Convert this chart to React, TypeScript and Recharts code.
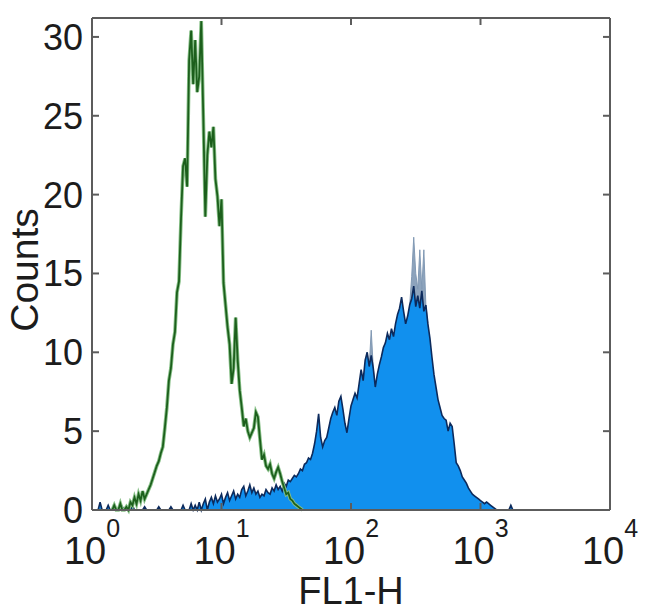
// FL1-H flow cytometry histogram: isotype control (green outline) vs stained sample (blue fill)

import { ComposedChart, Area, Line, XAxis, YAxis } from 'recharts'

// x axis is in channels: 256 channels over 4 log decades (64 per decade)
const X_TICKS = [0, 64, 128, 192, 256]
const X_EXPONENTS = ['0', '1', '2', '3', '4']
const Y_TICKS = [0, 5, 10, 15, 20, 25, 30]

// control histogram, starts at channel 10
const GREEN_START = 10
const greenCounts = [
  0, 0.3, 0, 0, 0.4, 0, 0, 0.2, 0, 0.5, 0.3, 0.8, 0.4,
  1.0, 0.6, 1.2, 0.7, 1.0,
  1.3, 1.6, 2.0, 2.4,
  2.8, 3.1, 3.6, 4.0,
  5.2, 6.5, 8.2,
  9.0, 10.5, 11.3,
  13.8, 14.5, 18.5,
  21.8, 22.3, 20.5,
  28.5, 30.4, 27.0,
  29.8, 26.5, 27.5,
  31.0, 25.0, 18.6,
  22.5, 24.0, 23.0,
  24.3, 21.0, 19.9,
  18.0, 19.7, 14.4,
  13.0, 11.6, 10.5,
  8.0, 9.0, 12.2,
  9.5, 7.6, 6.5,
  5.3, 5.8, 5.0,
  4.6, 4.9, 5.2,
  6.2, 5.9, 4.5,
  3.2, 3.5, 2.8,
  2.6, 2.9, 2.3,
  2.0, 2.4, 2.7,
  2.3, 1.8, 1.4,
  1.0, 1.1, 0.7,
  0.6, 0.4, 0.3,
  0.2, 0.1, 0,
]

// stained sample histogram, starts at channel 2
const BLUE_START = 2
const blueCounts = [
  0, 0, 0.5, 0, 0, 0, 0.3, 0, 0, 0,
  0, 0, 0, 0.2, 0, 0, 0, 0, 0.3, 0,
  0, 0, 0, 0, 0.2, 0, 0, 0, 0, 0,
  0, 0.2, 0, 0, 0, 0, 0, 0.2, 0, 0,
  0, 0, 0, 0.3, 0, 0, 0, 0.4, 0, 0.3,
  0, 0.5, 0, 0.4, 0.7, 0, 0.5, 0.8, 0.4, 0.9,
  0.5, 0.7, 1.0, 0.4, 0.8, 1.1, 0.6, 0.9, 1.2, 0.7,
  1.0, 0.8, 1.3, 1.5, 0.9, 1.2, 1.6, 1.1, 1.4, 1.0,
  1.2, 0.8, 1.0, 0.9, 1.3, 1.1, 1.0, 1.4, 1.2, 1.6,
  1.3, 1.5, 1.2, 1.7, 1.5, 1.9, 1.8, 2.0, 2.2, 2.1,
  2.3, 2.6, 2.5, 2.9, 3.0, 3.3, 3.2, 3.6, 4.2, 5.0,
  6.1, 4.6, 4.0, 4.4, 4.6, 5.2, 5.8, 6.2, 6.5, 6.0,
  6.9, 7.2, 6.4, 5.5, 4.9, 5.8, 6.6, 7.0, 7.4, 7.1,
  8.0, 8.9, 8.2, 9.5, 10.0, 9.1, 9.8, 9.0, 7.8, 8.6,
  9.2, 9.7, 10.3, 10.6, 11.2, 10.8, 11.5, 11.0, 11.8, 12.4,
  12.8, 13.5, 12.6, 11.8, 12.3, 13.0, 13.4, 14.2, 12.9, 13.6,
  12.8, 13.9, 12.6, 13.0, 11.8, 10.9, 9.7, 8.6, 7.8, 7.0,
  6.5, 6.0, 5.8, 5.7, 5.0, 5.5, 5.3, 4.2, 3.0, 2.8,
  2.5, 2.1, 1.9, 1.7, 1.4, 1.2, 1.0, 0.9, 0.8, 0.7,
  0.6, 0.5, 0.4, 0.5, 0.4, 0.3, 0.2, 0.1, 0, 0,
  0, 0, 0, 0, 0, 0.3, 0, 0, 0, 0,
]

// thin outline spikes that poke above the blue fill near the peak
const SPIKE_START = 136
const blueSpikes = [
  10.0, 9.1, 11.4, 9.0, 7.8,
  null, null, null, null, null, null, null, null,
  null, null, null, null, null, null, null, null,
  13.0, 14.8, 17.3, 15.0, 14.0, 16.5, 14.0, 16.5, 13.0, 11.8,
]

const data = Array.from({ length: 257 }, (_, ch) => ({
  ch,
  green: greenCounts[ch - GREEN_START] ?? null,
  blue: blueCounts[ch - BLUE_START] ?? null,
  spike: blueSpikes[ch - SPIKE_START] ?? null,
}))

const FONT = '"Liberation Sans", Arial, Helvetica, sans-serif'
const FRAME = '#5c5c5c'
const TEXT = '#1c1c1c'

function BottomTick({ x, y, payload }: any) {
  const exp = X_EXPONENTS[X_TICKS.indexOf(payload.value)]
  return (
    <g>
      <line x1={x} x2={x} y1={y} y2={y - 7} stroke={FRAME} strokeWidth={2} />
      <text x={x} y={y + 54} textAnchor="middle" fontSize={38} fill={TEXT} fontFamily={FONT}>
        <tspan>10</tspan>
        <tspan dy={-27} fontSize={25}>{exp}</tspan>
      </text>
    </g>
  )
}

function TopTick({ x, y }: any) {
  return <line x1={x} x2={x} y1={y} y2={y + 7} stroke={FRAME} strokeWidth={2} />
}

function LeftTick({ x, y, payload }: any) {
  return (
    <g>
      <line x1={x} x2={x + 7} y1={y} y2={y} stroke={FRAME} strokeWidth={2} />
      <text x={x - 9} y={y} dy="0.36em" textAnchor="end" fontSize={36} fill={TEXT} fontFamily={FONT}>
        {payload.value}
      </text>
    </g>
  )
}

function RightTick({ x, y }: any) {
  return <line x1={x} x2={x - 7} y1={y} y2={y} stroke={FRAME} strokeWidth={2} />
}

function XTitle() {
  return (
    <text x={351} y={604} textAnchor="middle" fontSize={38} fill={TEXT} fontFamily={FONT}>
      FL1-H
    </text>
  )
}

function YTitle() {
  return (
    <text
      x={38}
      y={270}
      transform="rotate(-90, 38, 270)"
      textAnchor="middle"
      fontSize={39}
      fill={TEXT}
      fontFamily={FONT}
    >
      Counts
    </text>
  )
}

export default function App() {
  return (
    <div style={{ margin: '-8px' }}>
      <ComposedChart width={650} height={616} data={data} margin={{ top: 17, right: 39, bottom: 0, left: 0 }}>
        <XAxis
          dataKey="ch"
          type="number"
          domain={[0, 256]}
          ticks={X_TICKS}
          height={106}
          tickSize={0}
          tickMargin={0}
          tick={<BottomTick />}
          axisLine={{ stroke: FRAME, strokeWidth: 2 }}
          label={<XTitle />}
        />
        <XAxis
          xAxisId="top"
          orientation="top"
          dataKey="ch"
          type="number"
          domain={[0, 256]}
          ticks={X_TICKS}
          height={1}
          tickSize={0}
          tickMargin={0}
          tick={<TopTick />}
          axisLine={{ stroke: FRAME, strokeWidth: 2 }}
        />
        <YAxis
          type="number"
          domain={[0, 31.2]}
          ticks={Y_TICKS}
          width={92}
          tickSize={0}
          tickMargin={0}
          tick={<LeftTick />}
          axisLine={{ stroke: FRAME, strokeWidth: 2 }}
          label={<YTitle />}
        />
        <YAxis
          yAxisId="right"
          orientation="right"
          type="number"
          domain={[0, 31.2]}
          ticks={Y_TICKS}
          width={1}
          tickSize={0}
          tickMargin={0}
          tick={<RightTick />}
          axisLine={{ stroke: FRAME, strokeWidth: 2 }}
        />
        <Area
          dataKey="spike"
          type="linear"
          stroke="#8199b4"
          strokeWidth={1}
          fill="#8da3bc"
          fillOpacity={1}
          isAnimationActive={false}
          connectNulls={false}
        />
        <Area
          dataKey="blue"
          type="linear"
          stroke="#0c2a5c"
          strokeWidth={1.6}
          fill="#1190ee"
          fillOpacity={1}
          isAnimationActive={false}
          connectNulls={false}
        />
        <Line
          dataKey="green"
          type="linear"
          stroke="#86bf86"
          strokeWidth={3.6}
          dot={false}
          isAnimationActive={false}
          connectNulls={false}
        />
        <Line
          dataKey="green"
          type="linear"
          stroke="#1c5f1c"
          strokeWidth={1.8}
          dot={false}
          isAnimationActive={false}
          connectNulls={false}
        />
        {/* binds the top and right axes so the frame closes; draws nothing */}
        <Line
          xAxisId="top"
          yAxisId="right"
          dataKey="green"
          stroke="none"
          dot={false}
          activeDot={false}
          isAnimationActive={false}
        />
      </ComposedChart>
    </div>
  )
}
